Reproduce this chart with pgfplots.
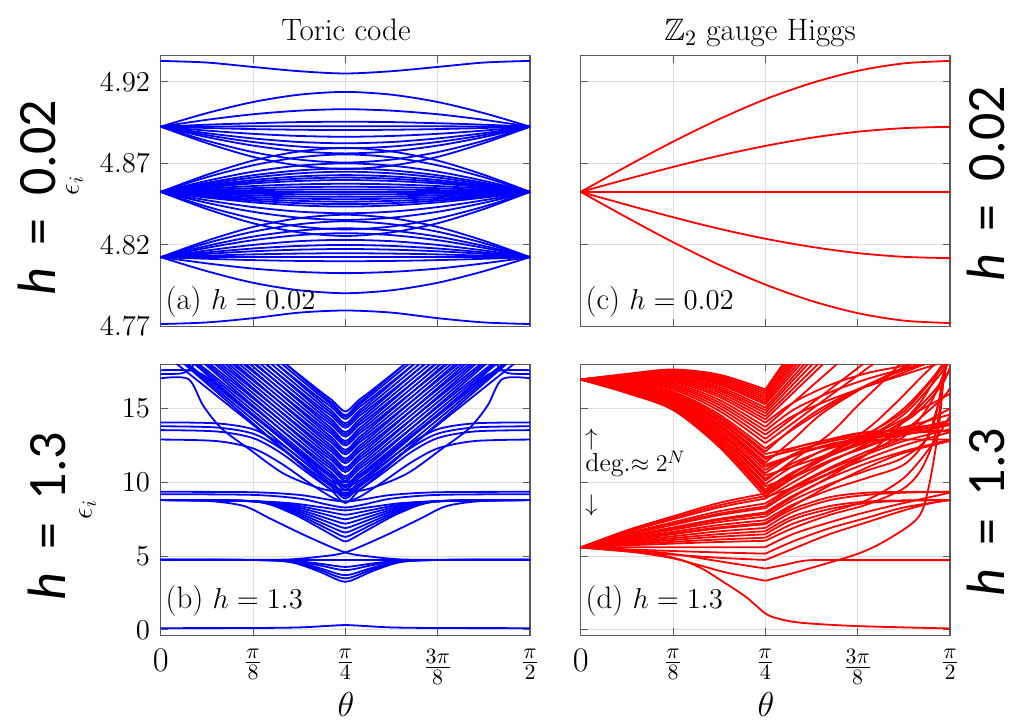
\documentclass[border=0pt]{standalone}
\usepackage{amssymb}
\usepackage{fontspec}
\newfontfamily\carlito{Carlito}
\usepackage{pgfplots}
\pgfplotsset{compat=1.18}

\pgfplotsset{
  panel/.style={
    scale only axis, width=184.65pt, height=135.4pt, anchor=north west,
    xmin=0, xmax=4, xtick={0,1,2,3,4},
    grid=major, major grid style={black!13, line width=0.5pt},
    axis line style={black!65, line width=0.6pt},
    tick style={black!65, line width=0.5pt}, major tick length=3.5pt,
    yticklabel style={font={\fontsize{15.5}{16}\selectfont}, xshift=-1.8pt},
    xticklabel style={font={\fontsize{15}{16}\selectfont}, yshift=-3.5pt},
  },
  botx/.style={xticklabels={{\fontsize{17}{17}\selectfont$0$},$\frac{\pi}{8}$,$\frac{\pi}{4}$,$\frac{3\pi}{8}$,$\frac{\pi}{2}$}},
  tb/.style={blue, line width=0.9pt, smooth},
  tr/.style={red, line width=0.9pt, smooth},
}
\tikzset{
  plab/.style={anchor=south west, inner sep=0pt, font={\fontsize{15.5}{16}\selectfont}},
  hlab/.style={rotate=90, anchor=base, inner sep=0pt, font={\carlito\fontsize{27}{28}\selectfont}},
}

\begin{document}
\begin{tikzpicture}
\path (0,0) rectangle (510.5pt,-360pt);

% ---------------- (a) toric code, h = 0.02
\begin{axis}[panel, at={(80.35pt,-27.85pt)}, ymin=4.77, ymax=4.936,
  ytick={4.77,4.82,4.87,4.92}, yticklabels={$4.77$,$4.82$,$4.87$,$4.92$},
  xticklabels={}]
\addplot[tb] coordinates {(0,4.9328)(0.5,4.9318)(1,4.9291)(1.5,4.9265)(2,4.9251)(2.5,4.9265)(3,4.9291)(3.5,4.9318)(4,4.9328)};
\addplot[tb] coordinates {(0,4.7715)(0.5,4.7725)(1,4.7751)(1.5,4.7785)(2,4.7798)(2.5,4.7785)(3,4.7751)(3.5,4.7725)(4,4.7715)};
% upper cluster
\addplot[tb] coordinates {(0,4.8925)(0.5,4.9008)(1,4.9076)(1.5,4.9121)(2,4.9138)(2.5,4.9121)(3,4.9076)(3.5,4.9008)(4,4.8925)};
\addplot[tb] coordinates {(0,4.8925)(0.5,4.8967)(1,4.9001)(1.5,4.9023)(2,4.9032)(2.5,4.9023)(3,4.9001)(3.5,4.8967)(4,4.8925)};
\addplot[tb] coordinates {(0,4.8925)(0.5,4.8937)(1,4.8946)(1.5,4.8953)(2,4.8955)(2.5,4.8953)(3,4.8946)(3.5,4.8937)(4,4.8925)};
\addplot[tb] coordinates {(0,4.8925)(0.5,4.8926)(1,4.8927)(1.5,4.8928)(2,4.8928)(2.5,4.8928)(3,4.8927)(3.5,4.8926)(4,4.8925)};
\addplot[tb] coordinates {(0,4.8925)(0.5,4.8917)(1,4.8910)(1.5,4.8906)(2,4.8904)(2.5,4.8906)(3,4.8910)(3.5,4.8917)(4,4.8925)};
\addplot[tb] coordinates {(0,4.8925)(0.5,4.8901)(1,4.8881)(1.5,4.8868)(2,4.8863)(2.5,4.8868)(3,4.8881)(3.5,4.8901)(4,4.8925)};
\addplot[tb] coordinates {(0,4.8925)(0.5,4.8885)(1,4.8853)(1.5,4.8831)(2,4.8823)(2.5,4.8831)(3,4.8853)(3.5,4.8885)(4,4.8925)};
\addplot[tb] coordinates {(0,4.8925)(0.5,4.8873)(1,4.8831)(1.5,4.8803)(2,4.8792)(2.5,4.8803)(3,4.8831)(3.5,4.8873)(4,4.8925)};
\addplot[tb] coordinates {(0,4.8925)(0.5,4.8861)(1,4.8809)(1.5,4.8774)(2,4.8761)(2.5,4.8774)(3,4.8809)(3.5,4.8861)(4,4.8925)};
\addplot[tb] coordinates {(0,4.8925)(0.5,4.8839)(1,4.8769)(1.5,4.8723)(2,4.8705)(2.5,4.8723)(3,4.8769)(3.5,4.8839)(4,4.8925)};
\addplot[tb] coordinates {(0,4.8925)(0.5,4.8824)(1,4.8740)(1.5,4.8686)(2,4.8665)(2.5,4.8686)(3,4.8740)(3.5,4.8824)(4,4.8925)};
% middle cluster
\addplot[tb] coordinates {(0,4.8525)(0.5,4.8630)(1,4.8717)(1.5,4.8773)(2,4.8795)(2.5,4.8773)(3,4.8717)(3.5,4.8630)(4,4.8525)};
\addplot[tb] coordinates {(0,4.8525)(0.5,4.8615)(1,4.8688)(1.5,4.8737)(2,4.8755)(2.5,4.8737)(3,4.8688)(3.5,4.8615)(4,4.8525)};
\addplot[tb] coordinates {(0,4.8525)(0.5,4.8593)(1,4.8649)(1.5,4.8686)(2,4.8700)(2.5,4.8686)(3,4.8649)(3.5,4.8593)(4,4.8525)};
\addplot[tb] coordinates {(0,4.8525)(0.5,4.8581)(1,4.8627)(1.5,4.8657)(2,4.8669)(2.5,4.8657)(3,4.8627)(3.5,4.8581)(4,4.8525)};
\addplot[tb] coordinates {(0,4.8525)(0.5,4.8573)(1,4.8613)(1.5,4.8639)(2,4.8649)(2.5,4.8639)(3,4.8613)(3.5,4.8573)(4,4.8525)};
\addplot[tb] coordinates {(0,4.8525)(0.5,4.8565)(1,4.8598)(1.5,4.8620)(2,4.8628)(2.5,4.8620)(3,4.8598)(3.5,4.8565)(4,4.8525)};
\addplot[tb] coordinates {(0,4.8525)(0.5,4.8559)(1,4.8587)(1.5,4.8606)(2,4.8613)(2.5,4.8606)(3,4.8587)(3.5,4.8559)(4,4.8525)};
\addplot[tb] coordinates {(0,4.8525)(0.5,4.8553)(1,4.8577)(1.5,4.8592)(2,4.8598)(2.5,4.8592)(3,4.8577)(3.5,4.8553)(4,4.8525)};
\addplot[tb] coordinates {(0,4.8525)(0.5,4.8545)(1,4.8561)(1.5,4.8571)(2,4.8575)(2.5,4.8571)(3,4.8561)(3.5,4.8545)(4,4.8525)};
\addplot[tb] coordinates {(0,4.8525)(0.5,4.8537)(1,4.8548)(1.5,4.8554)(2,4.8557)(2.5,4.8554)(3,4.8548)(3.5,4.8537)(4,4.8525)};
\addplot[tb] coordinates {(0,4.8525)(0.5,4.8531)(1,4.8536)(1.5,4.8539)(2,4.8540)(2.5,4.8539)(3,4.8536)(3.5,4.8531)(4,4.8525)};
\addplot[tb] coordinates {(0,4.8525)(4,4.8525)};
\addplot[tb] coordinates {(0,4.8525)(0.5,4.8519)(1,4.8514)(1.5,4.8511)(2,4.8510)(2.5,4.8511)(3,4.8514)(3.5,4.8519)(4,4.8525)};
\addplot[tb] coordinates {(0,4.8525)(0.5,4.8513)(1,4.8504)(1.5,4.8497)(2,4.8495)(2.5,4.8497)(3,4.8504)(3.5,4.8513)(4,4.8525)};
\addplot[tb] coordinates {(0,4.8525)(0.5,4.8507)(1,4.8493)(1.5,4.8484)(2,4.8480)(2.5,4.8484)(3,4.8493)(3.5,4.8507)(4,4.8525)};
\addplot[tb] coordinates {(0,4.8525)(0.5,4.8502)(1,4.8482)(1.5,4.8470)(2,4.8465)(2.5,4.8470)(3,4.8482)(3.5,4.8502)(4,4.8525)};
\addplot[tb] coordinates {(0,4.8525)(0.5,4.8496)(1,4.8472)(1.5,4.8456)(2,4.8450)(2.5,4.8456)(3,4.8472)(3.5,4.8496)(4,4.8525)};
\addplot[tb] coordinates {(0,4.8525)(0.5,4.8490)(1,4.8461)(1.5,4.8442)(2,4.8435)(2.5,4.8442)(3,4.8461)(3.5,4.8490)(4,4.8525)};
\addplot[tb] coordinates {(0,4.8525)(0.5,4.8474)(1,4.8432)(1.5,4.8404)(2,4.8394)(2.5,4.8404)(3,4.8432)(3.5,4.8474)(4,4.8525)};
\addplot[tb] coordinates {(0,4.8525)(0.5,4.8458)(1,4.8403)(1.5,4.8367)(2,4.8353)(2.5,4.8367)(3,4.8403)(3.5,4.8458)(4,4.8525)};
\addplot[tb] coordinates {(0,4.8525)(0.5,4.8435)(1,4.8362)(1.5,4.8313)(2,4.8295)(2.5,4.8313)(3,4.8362)(3.5,4.8435)(4,4.8525)};
\addplot[tb] coordinates {(0,4.8525)(0.5,4.8420)(1,4.8333)(1.5,4.8277)(2,4.8255)(2.5,4.8277)(3,4.8333)(3.5,4.8420)(4,4.8525)};
% lower cluster
\addplot[tb] coordinates {(0,4.8125)(0.5,4.8226)(1,4.8310)(1.5,4.8364)(2,4.8385)(2.5,4.8364)(3,4.8310)(3.5,4.8226)(4,4.8125)};
\addplot[tb] coordinates {(0,4.8125)(0.5,4.8211)(1,4.8281)(1.5,4.8327)(2,4.8345)(2.5,4.8327)(3,4.8281)(3.5,4.8211)(4,4.8125)};
\addplot[tb] coordinates {(0,4.8125)(0.5,4.8194)(1,4.8251)(1.5,4.8288)(2,4.8302)(2.5,4.8288)(3,4.8251)(3.5,4.8194)(4,4.8125)};
\addplot[tb] coordinates {(0,4.8125)(0.5,4.8182)(1,4.8229)(1.5,4.8260)(2,4.8272)(2.5,4.8260)(3,4.8229)(3.5,4.8182)(4,4.8125)};
\addplot[tb] coordinates {(0,4.8125)(0.5,4.8166)(1,4.8200)(1.5,4.8223)(2,4.8231)(2.5,4.8223)(3,4.8200)(3.5,4.8166)(4,4.8125)};
\addplot[tb] coordinates {(0,4.8125)(0.5,4.8154)(1,4.8178)(1.5,4.8194)(2,4.8200)(2.5,4.8194)(3,4.8178)(3.5,4.8154)(4,4.8125)};
\addplot[tb] coordinates {(0,4.8125)(0.5,4.8145)(1,4.8161)(1.5,4.8171)(2,4.8175)(2.5,4.8171)(3,4.8161)(3.5,4.8145)(4,4.8125)};
\addplot[tb] coordinates {(0,4.8125)(0.5,4.8134)(1,4.8142)(1.5,4.8147)(2,4.8149)(2.5,4.8147)(3,4.8142)(3.5,4.8134)(4,4.8125)};
\addplot[tb] coordinates {(0,4.8125)(4,4.8125)};
\addplot[tb] coordinates {(0,4.8125)(0.5,4.8115)(1,4.8107)(1.5,4.8102)(2,4.8100)(2.5,4.8102)(3,4.8107)(3.5,4.8115)(4,4.8125)};
\addplot[tb] coordinates {(0,4.8125)(0.5,4.8087)(1,4.8055)(1.5,4.8035)(2,4.8027)(2.5,4.8035)(3,4.8055)(3.5,4.8087)(4,4.8125)};
\addplot[tb] coordinates {(0,4.8125)(0.5,4.8039)(1,4.7968)(1.5,4.7922)(2,4.7904)(2.5,4.7922)(3,4.7968)(3.5,4.8039)(4,4.8125)};
\node[plab] at (rel axis cs:0.012,0.033) {(a) $h=0.02$};
\end{axis}

% ---------------- (c) Z2 gauge Higgs, h = 0.02
\begin{axis}[panel, at={(290.35pt,-27.85pt)}, ymin=4.77, ymax=4.936,
  ytick={4.77,4.82,4.87,4.92}, yticklabels={}, xticklabels={}]
\addplot[tr] coordinates {(0,4.8525)(0.5,4.8682)(1,4.8833)(1.5,4.8971)(2,4.9093)(2.5,4.9192)(3,4.9267)(3.5,4.9313)(4,4.9328)};
\addplot[tr] coordinates {(0,4.8525)(0.5,4.8603)(1,4.8678)(1.5,4.8747)(2,4.8807)(2.5,4.8857)(3,4.8894)(3.5,4.8916)(4,4.8924)};
\addplot[tr] coordinates {(0,4.8525)(4,4.8525)};
\addplot[tr] coordinates {(0,4.8525)(0.5,4.8446)(1,4.8370)(1.5,4.8299)(2,4.8238)(2.5,4.8188)(3,4.8150)(3.5,4.8127)(4,4.8119)};
\addplot[tr] coordinates {(0,4.8525)(0.5,4.8368)(1,4.8217)(1.5,4.8078)(2,4.7957)(2.5,4.7857)(3,4.7782)(3.5,4.7736)(4,4.7721)};
\node[plab] at (rel axis cs:0.012,0.033) {(c) $h=0.02$};
\end{axis}

% ---------------- (b) toric code, h = 1.3
\begin{axis}[panel, botx, at={(80.35pt,-182.15pt)}, ymin=-0.35, ymax=18,
  ytick={0,5,10,15}, yticklabels={$0$,$5$,$10$,$15$}]
% V-shaped band
\addplot[tb] coordinates {(0,19.4)(1.6,10.76)(1.85,9.46)(2,8.6)(2.15,9.46)(2.4,10.76)(4,19.4)};
\addplot[tb] coordinates {(0,18.9)(1.6,10.9)(1.85,9.7)(2,8.9)(2.15,9.7)(2.4,10.9)(4,18.9)};
\addplot[tb] coordinates {(0,19.45)(1.6,11.13)(1.85,9.88)(2,9.05)(2.15,9.88)(2.4,11.13)(4,19.45)};
\addplot[tb] coordinates {(0,20.0)(1.6,11.36)(1.85,10.06)(2,9.2)(2.15,10.06)(2.4,11.36)(4,20.0)};
\addplot[tb] coordinates {(0,19.5)(1.6,11.5)(1.85,10.3)(2,9.5)(2.15,10.3)(2.4,11.5)(4,19.5)};
\addplot[tb] coordinates {(0,20.05)(1.6,11.73)(1.85,10.48)(2,9.65)(2.15,10.48)(2.4,11.73)(4,20.05)};
\addplot[tb] coordinates {(0,20.6)(1.6,11.96)(1.85,10.66)(2,9.8)(2.15,10.66)(2.4,11.96)(4,20.6)};
\addplot[tb] coordinates {(0,20.1)(1.6,12.1)(1.85,10.9)(2,10.1)(2.15,10.9)(2.4,12.1)(4,20.1)};
\addplot[tb] coordinates {(0,20.65)(1.6,12.33)(1.85,11.08)(2,10.25)(2.15,11.08)(2.4,12.33)(4,20.65)};
\addplot[tb] coordinates {(0,21.2)(1.6,12.56)(1.85,11.26)(2,10.4)(2.15,11.26)(2.4,12.56)(4,21.2)};
\addplot[tb] coordinates {(0,20.7)(1.6,12.7)(1.85,11.5)(2,10.7)(2.15,11.5)(2.4,12.7)(4,20.7)};
\addplot[tb] coordinates {(0,21.25)(1.6,12.93)(1.85,11.68)(2,10.85)(2.15,11.68)(2.4,12.93)(4,21.25)};
\addplot[tb] coordinates {(0,21.8)(1.6,13.16)(1.85,11.86)(2,11.0)(2.15,11.86)(2.4,13.16)(4,21.8)};
\addplot[tb] coordinates {(0,21.3)(1.6,13.3)(1.85,12.1)(2,11.3)(2.15,12.1)(2.4,13.3)(4,21.3)};
\addplot[tb] coordinates {(0,21.85)(1.6,13.53)(1.85,12.28)(2,11.45)(2.15,12.28)(2.4,13.53)(4,21.85)};
\addplot[tb] coordinates {(0,22.4)(1.6,13.76)(1.85,12.46)(2,11.6)(2.15,12.46)(2.4,13.76)(4,22.4)};
\addplot[tb] coordinates {(0,21.9)(1.6,13.9)(1.85,12.7)(2,11.9)(2.15,12.7)(2.4,13.9)(4,21.9)};
\addplot[tb] coordinates {(0,22.45)(1.6,14.13)(1.85,12.88)(2,12.05)(2.15,12.88)(2.4,14.13)(4,22.45)};
\addplot[tb] coordinates {(0,23.0)(1.6,14.36)(1.85,13.06)(2,12.2)(2.15,13.06)(2.4,14.36)(4,23.0)};
\addplot[tb] coordinates {(0,22.5)(1.6,14.5)(1.85,13.3)(2,12.5)(2.15,13.3)(2.4,14.5)(4,22.5)};
\addplot[tb] coordinates {(0,23.05)(1.6,14.73)(1.85,13.48)(2,12.65)(2.15,13.48)(2.4,14.73)(4,23.05)};
\addplot[tb] coordinates {(0,23.6)(1.6,14.96)(1.85,13.66)(2,12.8)(2.15,13.66)(2.4,14.96)(4,23.6)};
\addplot[tb] coordinates {(0,23.1)(1.6,15.1)(1.85,13.9)(2,13.1)(2.15,13.9)(2.4,15.1)(4,23.1)};
\addplot[tb] coordinates {(0,23.65)(1.6,15.33)(1.85,14.08)(2,13.25)(2.15,14.08)(2.4,15.33)(4,23.65)};
\addplot[tb] coordinates {(0,24.2)(1.6,15.56)(1.85,14.26)(2,13.4)(2.15,14.26)(2.4,15.56)(4,24.2)};
\addplot[tb] coordinates {(0,23.7)(1.6,15.7)(1.85,14.5)(2,13.7)(2.15,14.5)(2.4,15.7)(4,23.7)};
\addplot[tb] coordinates {(0,24.25)(1.6,15.93)(1.85,14.68)(2,13.85)(2.15,14.68)(2.4,15.93)(4,24.25)};
\addplot[tb] coordinates {(0,24.8)(1.6,16.16)(1.85,14.86)(2,14.0)(2.15,14.86)(2.4,16.16)(4,24.8)};
\addplot[tb] coordinates {(0,24.3)(1.6,16.3)(1.85,15.1)(2,14.3)(2.15,15.1)(2.4,16.3)(4,24.3)};
\addplot[tb] coordinates {(0,24.85)(1.6,16.53)(1.85,15.28)(2,14.45)(2.15,15.28)(2.4,16.53)(4,24.85)};
\addplot[tb] coordinates {(0,25.35)(1.6,16.71)(1.85,15.41)(2,14.55)(2.15,15.41)(2.4,16.71)(4,25.35)};
\addplot[tb] coordinates {(0,24.8)(1.6,16.8)(1.85,15.6)(2,14.8)(2.15,15.6)(2.4,16.8)(4,24.8)};
% levels near 13-14
\addplot[tb] coordinates {(0,14.06)(0.6,14.0)(1.0,13.6)(1.3,12.6)(1.6,11.2)(1.85,10.1)(2,9.75)(2.15,10.1)(2.4,11.2)(2.7,12.6)(3,13.6)(3.4,14.0)(4,14.06)};
\addplot[tb] coordinates {(0,13.8)(0.6,13.72)(1.0,13.3)(1.3,12.3)(1.6,10.9)(1.85,9.8)(2,9.45)(2.15,9.8)(2.4,10.9)(2.7,12.3)(3,13.3)(3.4,13.72)(4,13.8)};
\addplot[tb] coordinates {(0,13.54)(0.6,13.45)(1.0,13.0)(1.3,12.0)(1.6,10.6)(1.85,9.5)(2,9.15)(2.15,9.5)(2.4,10.6)(2.7,12.0)(3,13.0)(3.4,13.45)(4,13.54)};
\addplot[tb] coordinates {(0,12.9)(0.6,12.8)(1.0,12.3)(1.3,11.3)(1.6,10.0)(1.85,9.0)(2,8.7)(2.15,9.0)(2.4,10.0)(2.7,11.3)(3,12.3)(3.4,12.8)(4,12.9)};
% top levels
\addplot[tb] coordinates {(0,17.05)(0.3,17.0)(0.46,15.2)(0.66,13.65)(0.97,12.2)(1.33,10.6)(1.7,9.65)(2,9.3)(2.3,9.65)(2.67,10.6)(3.03,12.2)(3.34,13.65)(3.54,15.2)(3.7,17.0)(4,17.05)};
\addplot[tb] coordinates {(0,17.6)(0.35,17.55)(0.55,16.9)(0.9,15.1)(1.3,13.1)(1.6,11.6)(1.85,10.45)(2,10.0)(2.15,10.45)(2.4,11.6)(2.7,13.1)(3.1,15.1)(3.45,16.9)(3.65,17.55)(4,17.6)};
\addplot[tb] coordinates {(0,17.35)(0.22,17.38)(0.32,17.7)(0.42,18.5)};
\addplot[tb] coordinates {(3.58,18.5)(3.68,17.7)(3.78,17.38)(4,17.35)};
% levels near 9
\addplot[tb] coordinates {(0,9.36)(1,9.33)(1.5,9.15)(1.8,8.85)(2,8.7)(2.2,8.85)(2.5,9.15)(3,9.33)(4,9.36)};
\addplot[tb] coordinates {(0,9.2)(1,9.15)(1.5,8.9)(1.8,8.5)(2,8.3)(2.2,8.5)(2.5,8.9)(3,9.15)(4,9.2)};
\addplot[tb] coordinates {(0,8.8)(1,8.72)(1.4,7.96)(1.7,6.98)(1.9,6.28)(2,6.0)(2.1,6.28)(2.3,6.98)(2.6,7.96)(3,8.72)(4,8.8)};
\addplot[tb] coordinates {(0,8.8)(1,8.72)(1.4,8.05)(1.7,7.18)(1.9,6.55)(2,6.3)(2.1,6.55)(2.3,7.18)(2.6,8.05)(3,8.72)(4,8.8)};
\addplot[tb] coordinates {(0,8.8)(1,8.72)(1.4,8.14)(1.7,7.37)(1.9,6.82)(2,6.6)(2.1,6.82)(2.3,7.37)(2.6,8.14)(3,8.72)(4,8.8)};
\addplot[tb] coordinates {(0,8.8)(1,8.72)(1.4,8.23)(1.7,7.57)(1.9,7.09)(2,6.9)(2.1,7.09)(2.3,7.57)(2.6,8.23)(3,8.72)(4,8.8)};
\addplot[tb] coordinates {(0,8.8)(1,8.72)(1.4,8.32)(1.7,7.76)(1.9,7.36)(2,7.2)(2.1,7.36)(2.3,7.76)(2.6,8.32)(3,8.72)(4,8.8)};
\addplot[tb] coordinates {(0,8.8)(1,8.72)(1.4,8.41)(1.7,7.96)(1.9,7.63)(2,7.5)(2.1,7.63)(2.3,7.96)(2.6,8.41)(3,8.72)(4,8.8)};
\addplot[tb] coordinates {(0,8.8)(1,8.72)(1.4,8.50)(1.7,8.15)(1.9,7.90)(2,7.8)(2.1,7.90)(2.3,8.15)(2.6,8.50)(3,8.72)(4,8.8)};
\addplot[tb] coordinates {(0,8.8)(1,8.72)(1.4,8.59)(1.7,8.35)(1.9,8.17)(2,8.1)(2.1,8.17)(2.3,8.35)(2.6,8.59)(3,8.72)(4,8.8)};
% crossing pair
\addplot[tb] coordinates {(0,4.75)(1,4.75)(1.4,4.78)(1.7,4.95)(2,5.25)(2.4,6.3)(2.8,7.5)(3.1,8.4)(3.5,8.75)(4,8.8)};
\addplot[tb] coordinates {(0,8.8)(0.5,8.75)(0.9,8.4)(1.2,7.5)(1.6,6.3)(2,5.25)(2.3,4.95)(2.6,4.78)(3,4.75)(4,4.75)};
% level near 4.75
\addplot[tb] coordinates {(0,4.75)(4,4.75)};
\addplot[tb] coordinates {(0,4.75)(1,4.74)(1.4,4.60)(1.7,4.00)(1.9,3.44)(2,3.26)(2.1,3.44)(2.3,4.00)(2.6,4.60)(3,4.74)(4,4.75)};
\addplot[tb] coordinates {(0,4.75)(1,4.74)(1.4,4.62)(1.7,4.12)(1.9,3.64)(2,3.49)(2.1,3.64)(2.3,4.12)(2.6,4.62)(3,4.74)(4,4.75)};
\addplot[tb] coordinates {(0,4.75)(1,4.74)(1.4,4.65)(1.7,4.23)(1.9,3.83)(2,3.71)(2.1,3.83)(2.3,4.23)(2.6,4.65)(3,4.74)(4,4.75)};
\addplot[tb] coordinates {(0,4.75)(1,4.74)(1.4,4.68)(1.7,4.40)(1.9,4.13)(2,4.05)(2.1,4.13)(2.3,4.40)(2.6,4.68)(3,4.74)(4,4.75)};
\addplot[tb] coordinates {(0,4.75)(1,4.74)(1.4,4.70)(1.7,4.51)(1.9,4.33)(2,4.27)(2.1,4.33)(2.3,4.51)(2.6,4.70)(3,4.74)(4,4.75)};
% ground level
\addplot[tb] coordinates {(0,0.12)(1,0.13)(1.5,0.17)(1.8,0.27)(2,0.33)(2.2,0.27)(2.5,0.17)(3,0.13)(4,0.12)};
\node[plab] at (rel axis cs:0.012,0.068) {(b) $h=1.3$};
\end{axis}

% ---------------- (d) Z2 gauge Higgs, h = 1.3
\begin{axis}[panel, botx, at={(290.35pt,-182.15pt)}, ymin=-0.35, ymax=18,
  ytick={0,5,10,15}, yticklabels={}]
% upper band, before and after theta = pi/4
\addplot[tr] coordinates {(0,16.97)(0.5,17.35)(1,17.65)(1.5,17.30)(2,16.30)}; \addplot[tr] coordinates {(2,16.30)(2.5,20.80)};
\addplot[tr] coordinates {(0,16.97)(0.5,17.32)(1,17.60)(1.5,17.20)(2,16.15)}; \addplot[tr] coordinates {(2,16.15)(2.5,20.55)};
\addplot[tr] coordinates {(0,16.97)(0.5,17.30)(1,17.54)(1.5,17.10)(2,16.01)}; \addplot[tr] coordinates {(2,16.01)(2.5,20.26)};
\addplot[tr] coordinates {(0,16.97)(0.5,17.27)(1,17.49)(1.5,17.01)(2,15.86)}; \addplot[tr] coordinates {(2,15.86)(2.5,19.96)};
\addplot[tr] coordinates {(0,16.97)(0.5,17.25)(1,17.43)(1.5,16.91)(2,15.72)}; \addplot[tr] coordinates {(2,15.72)(2.5,19.72)};
\addplot[tr] coordinates {(0,16.97)(0.5,17.22)(1,17.38)(1.5,16.81)(2,15.57)}; \addplot[tr] coordinates {(2,15.57)(2.5,19.47)};
\addplot[tr] coordinates {(0,16.97)(0.5,17.19)(1,17.32)(1.5,16.71)(2,15.42)}; \addplot[tr] coordinates {(2,15.42)(2.5,19.17)};
\addplot[tr] coordinates {(0,16.97)(0.5,17.17)(1,17.27)(1.5,16.61)(2,15.28)}; \addplot[tr] coordinates {(2,15.28)(2.5,18.88)};
\addplot[tr] coordinates {(0,16.97)(0.5,17.13)(1,17.18)(1.5,16.47)(2,15.06)}; \addplot[tr] coordinates {(2,15.06)(2.5,18.56)(3,22.06)};
\addplot[tr] coordinates {(0,16.97)(0.5,17.10)(1,17.11)(1.5,16.34)(2,14.88)}; \addplot[tr] coordinates {(2,14.88)(2.5,18.28)(3,21.68)};
\addplot[tr] coordinates {(0,16.97)(0.5,17.06)(1,17.05)(1.5,16.22)(2,14.69)}; \addplot[tr] coordinates {(2,14.69)(2.5,17.94)(3,21.19)};
\addplot[tr] coordinates {(0,16.97)(0.5,17.03)(1,16.96)(1.5,16.08)(2,14.48)}; \addplot[tr] coordinates {(2,14.48)(2.5,17.58)(3,20.68)};
\addplot[tr] coordinates {(0,16.97)(0.5,16.99)(1,16.88)(1.5,15.93)(2,14.26)}; \addplot[tr] coordinates {(2,14.26)(2.5,17.26)(3,20.26)};
\addplot[tr] coordinates {(0,16.97)(0.5,16.95)(1,16.80)(1.5,15.78)(2,14.04)}; \addplot[tr] coordinates {(2,14.04)(2.3,15.4)(2.7,16.6)(3.1,17.4)(3.5,17.9)(3.8,18.3)};
\addplot[tr] coordinates {(0,16.97)(0.5,16.90)(1,16.69)(1.5,15.59)(2,13.75)}; \addplot[tr] coordinates {(2,13.75)(2.5,16.50)(3,19.25)};
\addplot[tr] coordinates {(0,16.97)(0.5,16.85)(1,16.59)(1.5,15.41)(2,13.49)}; \addplot[tr] coordinates {(2,13.49)(2.3,14.9)(2.7,16.1)(3.1,17.0)(3.5,17.7)(3.8,18.2)};
\addplot[tr] coordinates {(0,16.97)(0.5,16.80)(1,16.50)(1.5,15.24)(2,13.23)}; \addplot[tr] coordinates {(2,13.23)(2.3,14.5)(2.7,15.6)(3.1,16.5)(3.5,17.3)(3.9,18.1)};
\addplot[tr] coordinates {(0,16.97)(0.5,16.75)(1,16.39)(1.5,15.05)(2,12.94)}; \addplot[tr] coordinates {(2,12.94)(2.5,15.34)(3,17.74)(3.5,20.14)};
\addplot[tr] coordinates {(0,16.97)(0.5,16.70)(1,16.28)(1.5,14.85)(2,12.65)}; \addplot[tr] coordinates {(2,12.65)(2.5,14.95)(3,17.25)(3.5,19.55)};
\addplot[tr] coordinates {(0,16.97)(0.5,16.64)(1,16.14)(1.5,14.61)(2,12.29)}; \addplot[tr] coordinates {(2,12.29)(2.3,13.6)(2.7,15.2)(3.1,16.6)(3.5,17.6)(3.9,18.3)};
\addplot[tr] coordinates {(0,16.97)(0.5,16.60)(1,16.06)(1.5,14.46)(2,12.07)}; \addplot[tr] coordinates {(2,12.07)(2.3,13.7)(2.6,15.0)(3.0,16.3)(3.4,17.2)(3.8,18.2)};
\addplot[tr] coordinates {(0,16.97)(0.5,16.57)(1,16.00)(1.5,14.36)(2,11.92)}; \addplot[tr] coordinates {(2,11.92)(2.5,12.62)(3,13.32)(3.5,13.5)(4,13.5)};
\addplot[tr] coordinates {(0,16.97)(0.5,16.53)(1,15.92)(1.5,14.21)(2,11.70)}; \addplot[tr] coordinates {(2,11.70)(2.4,12.3)(2.8,12.9)(3.2,13.2)(3.6,14.5)(3.9,16.5)(4,17.8)};
\addplot[tr] coordinates {(0,16.97)(0.5,16.51)(1,15.86)(1.5,14.12)(2,11.56)}; \addplot[tr] coordinates {(2,11.56)(2.4,12.5)(2.8,13.0)(3.2,13.3)(3.6,13.9)(4,14.6)};
\addplot[tr] coordinates {(0,16.97)(0.5,16.47)(1,15.78)(1.5,13.97)(2,11.34)}; \addplot[tr] coordinates {(2,11.34)(2.3,12.9)(2.6,14.6)(3.0,16.2)(3.4,17.5)(3.7,18.3)};
\addplot[tr] coordinates {(0,16.97)(0.5,16.44)(1,15.73)(1.5,13.87)(2,11.19)}; \addplot[tr] coordinates {(2,11.19)(2.5,12.2)(3,12.8)(3.5,12.9)(4,12.9)};
\addplot[tr] coordinates {(0,16.97)(0.5,16.41)(1,15.67)(1.5,13.77)(2,11.04)}; \addplot[tr] coordinates {(2,11.04)(2.4,12.0)(2.8,12.7)(3.2,13.1)(3.6,13.6)(4,14.2)};
\addplot[tr] coordinates {(0,16.97)(0.5,16.38)(1,15.59)(1.5,13.63)(2,10.83)}; \addplot[tr] coordinates {(2,10.83)(2.3,11.9)(2.7,12.9)(3.1,13.4)(3.5,13.5)(4,13.45)};
\addplot[tr] coordinates {(0,16.97)(0.5,16.34)(1,15.51)(1.5,13.48)(2,10.61)}; \addplot[tr] coordinates {(2,10.61)(2.3,11.8)(2.7,12.6)(3.1,13.1)(3.5,14.6)(3.8,16.6)(4,18.2)};
\addplot[tr] coordinates {(0,16.97)(0.5,16.31)(1,15.45)(1.5,13.38)(2,10.46)}; \addplot[tr] coordinates {(2,10.46)(2.5,11.5)(3,12.6)(3.5,13.6)(4,14.0)};
\addplot[tr] coordinates {(0,16.97)(0.5,16.27)(1,15.37)(1.5,13.23)(2,10.24)}; \addplot[tr] coordinates {(2,10.24)(2.3,11.3)(2.7,12.3)(3.1,12.9)(3.5,13.3)(4,13.5)};
\addplot[tr] coordinates {(0,16.97)(0.5,16.25)(1,15.31)(1.5,13.14)(2,10.10)}; \addplot[tr] coordinates {(2,10.10)(2.3,11.5)(2.7,13.3)(3.0,15.2)(3.3,17.0)(3.5,18.3)};
\addplot[tr] coordinates {(0,16.97)(0.5,16.21)(1,15.23)(1.5,12.99)(2,9.88)}; \addplot[tr] coordinates {(2,9.88)(2.3,11.1)(2.7,12.4)(3.1,13.3)(3.5,14.8)(3.8,16.9)(4,18.4)};
\addplot[tr] coordinates {(0,16.97)(0.5,16.18)(1,15.18)(1.5,12.89)(2,9.73)}; \addplot[tr] coordinates {(2,9.73)(2.5,10.9)(3,12.3)(3.5,14.2)(3.8,16)(4,17.6)};
\addplot[tr] coordinates {(0,16.97)(0.5,16.14)(1,15.09)(1.5,12.74)(2,9.51)}; \addplot[tr] coordinates {(2,9.51)(2.3,10.7)(2.7,11.8)(3.1,12.7)(3.5,13.2)(4,13.9)};
\addplot[tr] coordinates {(0,16.97)(0.5,16.12)(1,15.04)(1.5,12.65)(2,9.37)}; \addplot[tr] coordinates {(2,9.37)(2.3,10.6)(2.7,12.0)(3.1,13.2)(3.5,15.0)(3.8,17.0)(3.95,18.3)};
\addplot[tr] coordinates {(0,16.97)(0.5,16.09)(1,14.98)(1.5,12.55)(2,9.22)}; \addplot[tr] coordinates {(2,9.22)(2.3,10.3)(2.7,11.5)(3.1,12.4)(3.5,13.5)(3.9,15.6)(4,16.4)};
\addplot[tr] coordinates {(0,16.97)(0.5,16.05)(1,14.90)(1.5,12.40)(2,9.00)}; \addplot[tr] coordinates {(2,9.00)(2.5,10.1)(3,11.6)(3.5,13.3)(4,15.0)};
% lower fan
\addplot[tr] coordinates {(0,5.59)(0.5,6.75)(1,7.70)(1.5,8.61)(2,9.25)}; \addplot[tr] coordinates {(2,9.25)(2.3,10.4)(2.7,11.8)(3.1,13.0)(3.5,14.3)(4,16.0)};
\addplot[tr] coordinates {(0,5.59)(0.5,6.69)(1,7.59)(1.5,8.45)(2,9.07)}; \addplot[tr] coordinates {(2,9.07)(2.3,10.3)(2.7,12.0)(3.1,13.6)(3.4,15.3)(3.7,17.2)(3.9,18.4)};
\addplot[tr] coordinates {(0,5.59)(0.5,6.64)(1,7.49)(1.5,8.31)(2,8.90)}; \addplot[tr] coordinates {(2,8.90)(2.3,10.0)(2.7,11.4)(3.1,12.5)(3.5,13.4)(4,13.9)};
\addplot[tr] coordinates {(0,5.59)(0.5,6.53)(1,7.30)(1.5,8.04)(2,8.57)}; \addplot[tr] coordinates {(2,8.57)(2.3,9.7)(2.7,11.0)(3.1,12.1)(3.5,13.1)(3.8,15.5)(4,18.5)};
\addplot[tr] coordinates {(0,5.59)(0.5,6.47)(1,7.19)(1.5,7.88)(2,8.37)}; \addplot[tr] coordinates {(2,8.37)(2.3,9.6)(2.7,10.9)(3.1,11.9)(3.5,12.8)(4,13.6)};
\addplot[tr] coordinates {(0,5.59)(0.5,6.43)(1,7.12)(1.5,7.78)(2,8.25)}; \addplot[tr] coordinates {(2,8.25)(2.3,9.4)(2.7,10.6)(3.1,11.6)(3.5,12.5)(4,13.4)};
\addplot[tr] coordinates {(0,5.59)(0.5,6.34)(1,6.95)(1.5,7.53)(2,7.96)}; \addplot[tr] coordinates {(2,7.96)(2.3,9.1)(2.7,10.3)(3.1,11.3)(3.5,12.1)(4,12.9)};
\addplot[tr] coordinates {(0,5.59)(0.5,6.31)(1,6.89)(1.5,7.45)(2,7.85)}; \addplot[tr] coordinates {(2,7.85)(2.3,9.0)(2.7,10.4)(3.1,11.9)(3.4,13.5)(3.7,15.6)(3.9,17.8)};
\addplot[tr] coordinates {(0,5.59)(0.5,6.25)(1,6.79)(1.5,7.31)(2,7.68)}; \addplot[tr] coordinates {(2,7.68)(2.3,8.8)(2.7,9.9)(3.1,10.8)(3.5,11.7)(3.8,13.5)(3.95,18.2)};
\addplot[tr] coordinates {(0,5.59)(0.5,6.17)(1,6.65)(1.5,7.11)(2,7.43)}; \addplot[tr] coordinates {(2,7.43)(2.3,8.5)(2.7,9.5)(3.1,10.3)(3.5,11.2)(3.75,13.0)(3.9,16.0)(3.97,18.3)};
\addplot[tr] coordinates {(0,5.59)(0.5,6.11)(1,6.54)(1.5,6.95)(2,7.24)}; \addplot[tr] coordinates {(2,7.24)(2.3,8.4)(2.7,9.8)(3.1,11.0)(3.5,12.0)(4,12.8)};
\addplot[tr] coordinates {(0,5.59)(0.5,6.09)(1,6.49)(1.5,6.88)(2,7.16)}; \addplot[tr] coordinates {(2,7.16)(2.3,8.2)(2.7,9.0)(3.1,9.3)(3.5,9.35)(4,9.36)};
\addplot[tr] coordinates {(0,5.59)(0.5,6.01)(1,6.35)(1.5,6.68)(2,6.91)}; \addplot[tr] coordinates {(2,6.91)(2.3,8.0)(2.7,8.8)(3.1,9.15)(3.5,9.3)(4,9.36)};
\addplot[tr] coordinates {(0,5.59)(0.5,5.94)(1,6.22)(1.5,6.49)(2,6.69)}; \addplot[tr] coordinates {(2,6.69)(2.3,7.7)(2.7,8.4)(3.1,8.7)(3.5,8.78)(4,8.8)};
\addplot[tr] coordinates {(0,5.59)(0.5,5.87)(1,6.10)(1.5,6.32)(2,6.48)}; \addplot[tr] coordinates {(2,6.48)(2.3,7.5)(2.7,8.2)(3.1,8.6)(3.5,8.75)(4,8.8)};
\addplot[tr] coordinates {(0,5.59)(0.5,5.80)(1,5.97)(1.5,6.13)(2,6.25)}; \addplot[tr] coordinates {(2,6.25)(2.3,7.2)(2.7,8.0)(3.1,8.8)(3.5,10.3)(3.8,12.5)(4,14.5)};
\addplot[tr] coordinates {(0,5.59)(0.5,5.73)(1,5.85)(1.5,5.96)(2,6.04)}; \addplot[tr] coordinates {(2,6.04)(2.3,6.9)(2.7,7.8)(3.1,8.5)(3.5,9.6)(3.7,11.0)(3.85,13.5)(3.95,18.0)};
\addplot[tr] coordinates {(0,5.59)(0.5,5.60)(1,5.60)(1.5,5.60)(2,5.61)}; \addplot[tr] coordinates {(2,5.61)(2.3,6.5)(2.7,7.3)(3.1,8.0)(3.5,8.6)(4,9.3)};
\addplot[tr] coordinates {(0,5.59)(0.5,5.46)(1,5.35)(1.5,5.25)(2,5.17)}; \addplot[tr] coordinates {(2,5.17)(2.3,6.0)(2.7,6.9)(3.1,7.6)(3.5,8.3)(4,8.8)};
\addplot[tr] coordinates {(0,5.59)(0.5,5.32)(1,5.10)(1.5,4.89)(2,4.74)}; \addplot[tr] coordinates {(2,4.74)(2.3,5.5)(2.7,6.5)(3.1,7.3)(3.5,8.1)(3.8,8.6)(4,8.8)};
% lowest branches
\addplot[tr] coordinates {(0,5.59)(0.5,5.45)(1,5.15)(1.5,4.65)(2,4.16)}; \addplot[tr] coordinates {(2,4.16)(2.2,4.4)(2.47,4.72)(3,4.73)(4,4.73)};
\addplot[tr] coordinates {(0,5.59)(0.5,5.33)(1,4.85)(1.57,3.9)(2,3.33)}; \addplot[tr] coordinates {(2,3.33)(2.29,3.83)(3.01,5.18)(3.37,6.3)(3.66,7.66)(3.77,9.7)(3.88,13.8)(3.94,17.8)(3.96,19)};
\addplot[tr] coordinates {(0,5.59)(0.5,5.4)(1,4.9)(1.3,4.2)(1.57,3.15)(1.79,2.24)(2,1.12)(2.15,0.75)(2.4,0.48)(3,0.26)(4,0.1)};
\node[plab] at (rel axis cs:0.012,0.068) {(d) $h=1.3$};
\node[anchor=west, inner sep=0pt, font={\fontsize{13}{13}\selectfont}] at (axis cs:0.046,12.93) {$\uparrow$};
\node[anchor=base west, inner sep=0pt, font={\fontsize{13}{13}\selectfont}] at (axis cs:0.046,10.71) {deg.$\approx 2^N$};
\node[anchor=west, inner sep=0pt, font={\fontsize{13}{13}\selectfont}] at (axis cs:0.046,8.46) {$\downarrow$};
\end{axis}

% titles, axis labels and row labels
\node[anchor=base, font={\fontsize{15.5}{16}\selectfont}] at (173pt,-20.5pt) {Toric code};
\node[anchor=base, font={\fontsize{15.5}{16}\selectfont}] at (380pt,-20.5pt) {$\mathbb{Z}_2$ gauge Higgs};
\node[anchor=base, font={\fontsize{18}{18}\selectfont}] at (173pt,-358pt) {$\theta$};
\node[anchor=base, font={\fontsize{18}{18}\selectfont}] at (383pt,-358pt) {$\theta$};
\node[rotate=90, font={\fontsize{14}{14}\selectfont}] at (37.25pt,-92.75pt) {$\epsilon_i$};
\node[rotate=90, font={\fontsize{14}{14}\selectfont}] at (43.75pt,-254.75pt) {$\epsilon_i$};
\node[hlab] at (27.5pt,-99pt) {{\itshape h}\hspace{0.42em}=\hspace{0.42em}0.02};
\node[hlab] at (32.5pt,-258pt) {{\itshape h}\hspace{0.42em}=\hspace{0.42em}1.3};
\node[hlab] at (502pt,-92pt) {{\itshape h}\hspace{0.42em}=\hspace{0.42em}0.02};
\node[hlab] at (502pt,-256pt) {{\itshape h}\hspace{0.42em}=\hspace{0.42em}1.3};
\end{tikzpicture}
\end{document}
